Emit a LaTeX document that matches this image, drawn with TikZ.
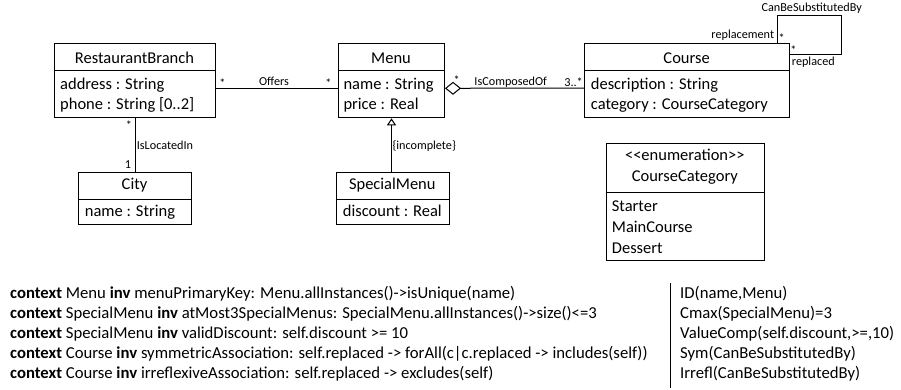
\documentclass[tikz,border=0pt]{standalone}
\usepackage{fontspec}
\setmainfont{Carlito}
\usetikzlibrary{arrows.meta}

\begin{document}
\begin{tikzpicture}[x=1pt,y=-1pt,
  classbox/.style={draw=black, line width=1pt, inner sep=0pt, anchor=north west},
  cname/.style={font=\fontsize{16.5}{19}\selectfont, inner sep=0pt, anchor=base},
  attr/.style={font=\fontsize{16.5}{19}\selectfont, inner sep=0pt, anchor=base west},
  lbl/.style={font=\fontsize{12.2}{14}\selectfont, inner sep=0pt, anchor=base},
  ocl/.style={font=\fontsize{16.7}{19}\selectfont, inner sep=0pt, anchor=base west},
  assoc/.style={draw=black, line width=1pt}]
\useasboundingbox (0,0) rectangle (901,389);

% ---- class boxes ----
\node[classbox, minimum width=161pt, minimum height=74pt] (rb) at (54,43.3) {};
\node[classbox, minimum width=106pt, minimum height=74pt] (menu) at (338,43.3) {};
\node[classbox, minimum width=204.7pt, minimum height=73.4pt] (course) at (584.3,43.3) {};
\node[classbox, minimum width=112.4pt, minimum height=52.3pt] (city) at (78.3,171.7) {};
\node[classbox, minimum width=112.7pt, minimum height=52.3pt] (sm) at (336,171.7) {};
\node[classbox, minimum width=158.3pt, minimum height=116.7pt] (cc) at (605.7,143.3) {};

% compartment separators
\draw[assoc] ([yshift=-27.4pt]rb.north west) -- ([yshift=-27.4pt]rb.north east);
\draw[assoc] ([yshift=-27.4pt]menu.north west) -- ([yshift=-27.4pt]menu.north east);
\draw[assoc] ([yshift=-27.4pt]course.north west) -- ([yshift=-27.4pt]course.north east);
\draw[assoc] ([yshift=-27.6pt]city.north west) -- ([yshift=-27.6pt]city.north east);
\draw[assoc] ([yshift=-27.6pt]sm.north west) -- ([yshift=-27.6pt]sm.north east);
\draw[assoc] ([yshift=-48.7pt]cc.north west) -- ([yshift=-48.7pt]cc.north east);

% ---- class contents ----
\node[cname] (rb-n) at (134.5,63.3) {RestaurantBranch};
\node[attr] (rb-a1) at (60,89) {address : String};
\node[attr] (rb-a2) at (60,109.5) {phone : String [0..2]};

\node[cname] (menu-n) at (391,63.3) {Menu};
\node[attr] (menu-a1) at (343.3,89) {name : String};
\node[attr] (menu-a2) at (343.3,109.5) {price : Real};

\node[cname] (course-n) at (686.6,63.3) {Course};
\node[attr] (course-a1) at (590.7,89) {description : String};
\node[attr] (course-a2) at (590.7,109.5) {category : CourseCategory};

\node[cname] (city-n) at (134.5,189.5) {City};
\node[attr] (city-a1) at (84.7,216.5) {name : String};

\node[cname] (sm-n) at (392.3,189.5) {SpecialMenu};
\node[attr] (sm-a1) at (342.7,216.5) {discount : Real};

\node[cname] (cc-s) at (684.8,160) {<{}<enumeration>{}>};
\node[cname] (cc-n) at (684.8,181.7) {CourseCategory};
\node[attr] (cc-l1) at (611.7,211) {Starter};
\node[attr] (cc-l2) at (611.7,232.3) {MainCourse};
\node[attr] (cc-l3) at (611.7,253.3) {Dessert};

% ---- relationships ----
% Offers
\draw[assoc] ([yshift=-8pt]rb.east) -- ([yshift=-8pt]menu.west);
\node[lbl] (off-l) at (274,85) {Offers};
\node[lbl] (off-m1) at (222.3,87.2) {*};
\node[lbl] (off-m2) at (328.3,87.2) {*};

% IsLocatedIn
\draw[assoc] (rb.south) -- (city.north);
\node[lbl, anchor=base west] (loc-l) at (136.7,149) {IsLocatedIn};
\node[lbl] (loc-m1) at (129,129.5) {*};
\node[lbl] (loc-m2) at (128,168.3) {1};

% generalisation SpecialMenu -> Menu
\draw[assoc, -{Triangle[open, width=9pt, length=7pt, line width=1pt]}] (menu.south |- sm.north) -- (menu.south);
\node[lbl, anchor=base west] (gen-l) at (392.3,149) {\{incomplete\}};

% IsComposedOf (aggregation)
\draw[assoc, {Diamond[open, width=13pt, length=16pt, line width=1pt]}-] ([yshift=-7.5pt]menu.east) -- ([yshift=-7.5pt]course.west);
\node[lbl] (comp-l) at (510.7,85) {IsComposedOf};
\node[lbl] (comp-m1) at (456.7,84.8) {*};
\node[lbl, anchor=base east] (comp-m2) at (583,86.5) {3..*};

% CanBeSubstitutedBy (reflexive)
\coordinate (loop) at (841,15.2);
\draw[assoc] ([xshift=-12.5pt]course.north east) |- (loop) |- ([yshift=-11pt]course.north east);
\node[lbl] (sub-l) at (811.7,11.7) {CanBeSubstitutedBy};
\node[lbl, anchor=base east] (sub-r1) at (774.3,38.5) {replacement};
\node[lbl] (sub-m1) at (781.7,42) {*};
\node[lbl] (sub-m2) at (793.3,54.5) {*};
\node[lbl, anchor=base west] (sub-r2) at (791.7,65.5) {replaced};

% ---- OCL constraints ----
\node[ocl] (c1) at (10,298) {\textbf{context} Menu \textbf{inv} menuPrimaryKey: Menu.allInstances()->isUnique(name)};
\node[ocl] (c2) at (10,318.3) {\textbf{context} SpecialMenu \textbf{inv} atMost3SpecialMenus: SpecialMenu.allInstances()->size()<=3};
\node[ocl] (c3) at (10,338.3) {\textbf{context} SpecialMenu \textbf{inv} validDiscount: self.discount >= 10};
\node[ocl] (c4) at (10,358.7) {\textbf{context} Course \textbf{inv} symmetricAssociation: self.replaced -> forAll(c|c.replaced -> includes(self))};
\node[ocl] (c5) at (10,378.7) {\textbf{context} Course \textbf{inv} irreflexiveAssociation: self.replaced -> excludes(self)};

\draw[line width=1pt] (670.7,283) -- (670.7,388);

\node[ocl] (p1) at (680,298) {ID(name,Menu)};
\node[ocl] (p2) at (680,318.3) {Cmax(SpecialMenu)=3};
\node[ocl] (p3) at (680,338.3) {ValueComp(self.discount,>=,10)};
\node[ocl] (p4) at (680,358.7) {Sym(CanBeSubstitutedBy)};
\node[ocl] (p5) at (680,378.7) {Irrefl(CanBeSubstitutedBy)};
\end{tikzpicture}
\end{document}
